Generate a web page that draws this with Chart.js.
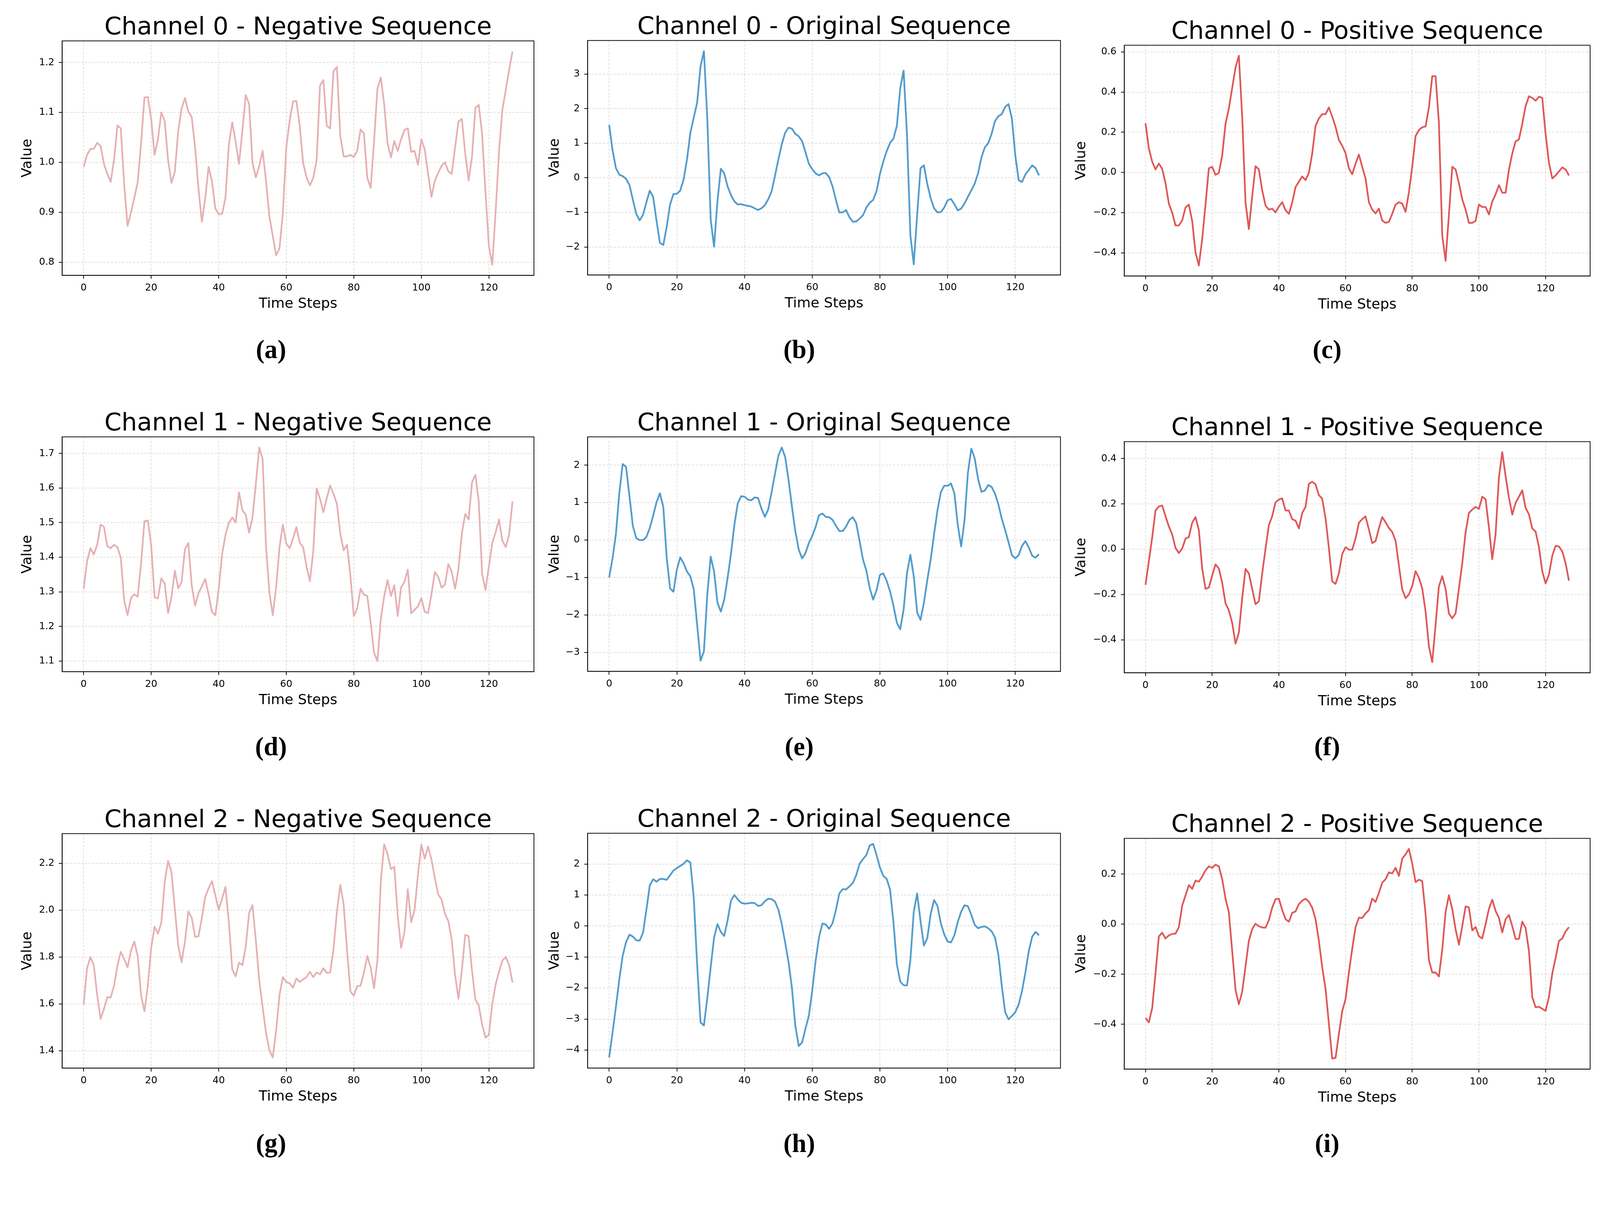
<!DOCTYPE html>
<html>
<head>
<meta charset="utf-8">
<title>Channel sequences</title>
<script src="https://cdn.jsdelivr.net/npm/chart.js@4.4.1/dist/chart.umd.min.js"></script>
<style>
  html, body { margin: 0; padding: 0; background: #fff; overflow: hidden; }
  #page { position: relative; overflow: hidden; background: #fff; }
  .panel { position: absolute; }
  .caption {
    position: absolute; text-align: center;
    font-family: 'Liberation Serif', 'DejaVu Serif', serif; font-weight: bold; color: #000;
  }
</style>
</head>
<body>
<div id="page"></div>
<script>
// time axis
const timeSteps = Array.from({ length: 128 }, (_, i) => i);
const xTicks = [0, 20, 40, 60, 80, 100, 120];
const xTickLabels = ['0', '20', '40', '60', '80', '100', '120'];

// ---- series ----
const negCh0 = [0.991,1.015,1.027,1.027,1.039,1.033,0.997,0.977,0.961,1.005,
  1.074,1.068,0.956,0.873,0.899,0.929,0.960,1.038,1.130,1.131,
  1.087,1.015,1.046,1.100,1.083,1.005,0.959,0.981,1.063,1.108,
  1.129,1.102,1.091,1.030,0.948,0.881,0.928,0.991,0.962,0.908,
  0.896,0.897,0.929,1.036,1.080,1.042,0.997,1.063,1.135,1.117,
  0.999,0.970,0.993,1.023,0.964,0.892,0.853,0.814,0.828,0.899,
  1.030,1.083,1.122,1.123,1.073,0.999,0.970,0.954,0.969,1.005,
  1.154,1.165,1.073,1.068,1.183,1.191,1.053,1.012,1.012,1.015,
  1.011,1.023,1.066,1.058,0.969,0.949,1.042,1.148,1.170,1.116,
  1.038,1.010,1.043,1.023,1.046,1.065,1.068,1.021,1.023,0.995,
  1.046,1.026,0.977,0.931,0.963,0.979,0.993,1.000,0.982,0.977,
  1.030,1.082,1.087,1.018,0.964,1.011,1.109,1.115,1.057,0.940,
  0.833,0.795,0.900,1.022,1.105,1.145,1.185,1.222];

const origCh0 = [1.53,0.80,0.28,0.09,0.05,-0.03,-0.21,-0.63,-1.04,-1.23,
  -1.07,-0.71,-0.37,-0.55,-1.24,-1.88,-1.94,-1.42,-0.77,-0.47,
  -0.46,-0.37,-0.05,0.53,1.30,1.74,2.18,3.22,3.66,1.71,
  -1.21,-1.99,-0.68,0.26,0.13,-0.25,-0.50,-0.68,-0.77,-0.76,
  -0.79,-0.81,-0.83,-0.88,-0.93,-0.88,-0.79,-0.62,-0.39,0.06,
  0.53,0.97,1.30,1.45,1.42,1.27,1.20,1.06,0.74,0.41,
  0.25,0.13,0.07,0.13,0.14,0.02,-0.25,-0.64,-1.00,-1.00,
  -0.93,-1.14,-1.27,-1.26,-1.18,-1.08,-0.86,-0.72,-0.64,-0.39,
  0.11,0.47,0.77,1.01,1.13,1.50,2.59,3.10,1.24,-1.66,
  -2.50,-1.07,0.28,0.36,-0.18,-0.59,-0.88,-1.00,-0.99,-0.86,
  -0.65,-0.61,-0.76,-0.94,-0.89,-0.74,-0.55,-0.36,-0.17,0.13,
  0.59,0.88,1.00,1.27,1.64,1.78,1.84,2.05,2.13,1.71,
  0.65,-0.07,-0.12,0.10,0.23,0.36,0.28,0.07];

const posCh0 = [0.245,0.120,0.054,0.015,0.044,0.018,-0.053,-0.155,-0.200,-0.264,
  -0.264,-0.239,-0.175,-0.160,-0.241,-0.399,-0.463,-0.333,-0.160,0.021,
  0.028,-0.012,-0.002,0.084,0.242,0.318,0.420,0.522,0.581,0.278,
  -0.150,-0.282,-0.119,0.031,0.015,-0.089,-0.165,-0.185,-0.180,-0.199,
  -0.170,-0.148,-0.188,-0.206,-0.150,-0.073,-0.046,-0.020,-0.038,-0.002,
  0.094,0.232,0.269,0.290,0.290,0.323,0.278,0.227,0.161,0.133,
  0.096,0.021,-0.009,0.044,0.089,0.028,-0.030,-0.148,-0.185,-0.204,
  -0.180,-0.239,-0.251,-0.246,-0.206,-0.160,-0.148,-0.155,-0.196,-0.099,
  0.028,0.181,0.211,0.225,0.229,0.323,0.479,0.479,0.247,-0.313,
  -0.440,-0.211,0.028,0.015,-0.053,-0.134,-0.185,-0.251,-0.251,-0.241,
  -0.160,-0.172,-0.172,-0.209,-0.145,-0.109,-0.063,-0.101,-0.101,0.013,
  0.094,0.155,0.164,0.242,0.330,0.379,0.371,0.357,0.377,0.371,
  0.191,0.049,-0.030,-0.015,0.005,0.025,0.015,-0.015];

const negCh1 = [1.309,1.388,1.426,1.408,1.435,1.494,1.488,1.432,1.426,1.436,
  1.429,1.399,1.275,1.233,1.282,1.293,1.286,1.382,1.504,1.506,
  1.435,1.284,1.281,1.339,1.324,1.239,1.284,1.361,1.310,1.329,
  1.423,1.441,1.319,1.260,1.296,1.316,1.337,1.293,1.242,1.232,
  1.310,1.408,1.465,1.499,1.515,1.500,1.587,1.536,1.523,1.471,
  1.515,1.613,1.717,1.684,1.432,1.299,1.233,1.313,1.429,1.494,
  1.440,1.426,1.454,1.487,1.442,1.429,1.373,1.331,1.417,1.599,
  1.568,1.530,1.571,1.607,1.583,1.554,1.468,1.420,1.436,1.346,
  1.230,1.252,1.309,1.292,1.288,1.210,1.124,1.100,1.222,1.287,
  1.334,1.288,1.319,1.230,1.313,1.329,1.364,1.238,1.248,1.258,
  1.282,1.242,1.239,1.293,1.357,1.343,1.312,1.321,1.380,1.358,
  1.309,1.367,1.469,1.525,1.509,1.616,1.638,1.562,1.352,1.305,
  1.373,1.440,1.472,1.509,1.448,1.429,1.466,1.561];

const origCh1 = [-1.00,-0.49,0.16,1.25,2.03,1.95,1.17,0.38,0.05,0.00,
  0.00,0.08,0.32,0.65,1.01,1.25,0.88,-0.47,-1.29,-1.38,
  -0.79,-0.46,-0.62,-0.84,-0.97,-1.31,-2.27,-3.22,-2.97,-1.45,
  -0.44,-0.84,-1.67,-1.91,-1.59,-1.01,-0.36,0.41,0.98,1.17,
  1.16,1.08,1.06,1.14,1.12,0.84,0.62,0.82,1.28,1.77,
  2.25,2.47,2.22,1.61,0.90,0.24,-0.25,-0.49,-0.35,-0.08,
  0.11,0.35,0.66,0.71,0.62,0.61,0.54,0.38,0.24,0.24,
  0.36,0.54,0.61,0.45,-0.03,-0.52,-0.82,-1.29,-1.59,-1.34,
  -0.93,-0.89,-1.09,-1.37,-1.75,-2.21,-2.38,-1.86,-0.88,-0.39,
  -0.96,-1.93,-2.13,-1.67,-1.07,-0.52,0.16,0.79,1.28,1.45,
  1.45,1.51,1.25,0.41,-0.17,0.53,1.80,2.44,2.18,1.63,
  1.29,1.32,1.47,1.42,1.24,0.95,0.57,0.27,-0.06,-0.40,
  -0.49,-0.40,-0.15,-0.03,-0.20,-0.42,-0.47,-0.38];

const posCh1 = [-0.157,-0.053,0.051,0.171,0.189,0.193,0.146,0.101,0.065,0.006,
  -0.017,0.003,0.047,0.054,0.117,0.142,0.085,-0.085,-0.175,-0.169,
  -0.116,-0.067,-0.085,-0.148,-0.239,-0.270,-0.325,-0.417,-0.368,-0.216,
  -0.087,-0.107,-0.175,-0.243,-0.230,-0.107,0.003,0.106,0.146,0.207,
  0.219,0.225,0.171,0.171,0.133,0.126,0.092,0.160,0.187,0.289,
  0.298,0.287,0.239,0.223,0.137,0.006,-0.142,-0.153,-0.107,-0.021,
  0.009,-0.002,-0.002,0.047,0.117,0.133,0.145,0.087,0.027,0.036,
  0.092,0.142,0.119,0.094,0.076,0.038,-0.071,-0.178,-0.216,-0.200,
  -0.162,-0.097,-0.126,-0.173,-0.275,-0.429,-0.499,-0.334,-0.164,-0.119,
  -0.175,-0.284,-0.305,-0.284,-0.175,-0.062,0.074,0.160,0.175,0.187,
  0.178,0.232,0.221,0.096,-0.044,0.066,0.318,0.429,0.323,0.228,
  0.153,0.205,0.232,0.260,0.183,0.154,0.092,0.078,0.010,-0.097,
  -0.151,-0.112,-0.029,0.015,0.012,-0.009,-0.062,-0.139];

const negCh2 = [1.597,1.752,1.800,1.765,1.638,1.536,1.577,1.629,1.627,1.677,
  1.763,1.822,1.791,1.756,1.826,1.866,1.804,1.638,1.568,1.677,
  1.839,1.929,1.899,1.947,2.119,2.210,2.163,2.006,1.848,1.778,
  1.866,1.994,1.968,1.886,1.888,1.966,2.056,2.093,2.124,2.063,
  2.001,2.049,2.099,1.949,1.747,1.717,1.776,1.765,1.844,1.988,
  2.021,1.870,1.699,1.586,1.476,1.402,1.371,1.485,1.638,1.714,
  1.693,1.688,1.669,1.708,1.693,1.704,1.714,1.737,1.714,1.734,
  1.726,1.752,1.732,1.734,1.835,1.994,2.108,2.023,1.828,1.653,
  1.635,1.676,1.677,1.734,1.804,1.754,1.667,1.787,2.124,2.281,
  2.239,2.175,2.185,1.979,1.839,1.907,2.089,1.949,2.001,2.150,
  2.280,2.220,2.271,2.216,2.137,2.067,2.045,1.984,1.953,1.874,
  1.721,1.621,1.743,1.894,1.889,1.743,1.618,1.594,1.511,1.456,
  1.467,1.599,1.682,1.737,1.784,1.800,1.765,1.691];

const origCh2 = [-4.24,-3.44,-2.61,-1.72,-0.96,-0.52,-0.28,-0.34,-0.46,-0.47,
  -0.22,0.52,1.31,1.51,1.43,1.52,1.52,1.49,1.64,1.79,
  1.87,1.94,2.01,2.12,2.05,0.92,-1.26,-3.11,-3.21,-2.32,
  -1.33,-0.37,0.06,-0.19,-0.32,0.19,0.82,1.00,0.86,0.75,
  0.72,0.73,0.75,0.74,0.65,0.67,0.80,0.88,0.87,0.79,
  0.53,0.06,-0.53,-1.16,-1.99,-3.21,-3.87,-3.76,-3.31,-2.90,
  -2.09,-1.13,-0.37,0.08,0.05,-0.09,0.09,0.52,1.05,1.19,
  1.18,1.28,1.39,1.64,2.01,2.16,2.29,2.60,2.65,2.29,
  1.89,1.62,1.52,1.18,0.12,-1.23,-1.79,-1.91,-1.92,-1.10,
  0.46,1.05,0.16,-0.63,-0.39,0.39,0.84,0.65,0.09,-0.27,
  -0.50,-0.53,-0.30,0.13,0.46,0.67,0.64,0.36,0.04,-0.07,
  -0.03,-0.01,-0.07,-0.17,-0.37,-0.93,-1.92,-2.78,-3.01,-2.90,
  -2.78,-2.53,-2.09,-1.49,-0.80,-0.34,-0.19,-0.30];

const posCh2 = [-0.375,-0.392,-0.336,-0.197,-0.049,-0.034,-0.057,-0.045,-0.039,-0.038,
  -0.012,0.074,0.115,0.156,0.141,0.174,0.170,0.190,0.215,0.231,
  0.225,0.238,0.231,0.180,0.102,0.048,-0.107,-0.262,-0.320,-0.270,
  -0.168,-0.066,-0.020,0.002,-0.008,-0.013,-0.014,0.016,0.066,0.100,
  0.102,0.057,0.020,0.010,0.045,0.051,0.080,0.094,0.102,0.090,
  0.066,0.020,-0.066,-0.172,-0.258,-0.398,-0.537,-0.534,-0.439,-0.348,
  -0.299,-0.193,-0.098,-0.012,0.026,0.025,0.043,0.056,0.102,0.089,
  0.125,0.166,0.180,0.207,0.203,0.225,0.193,0.262,0.279,0.301,
  0.242,0.168,0.178,0.172,0.041,-0.143,-0.193,-0.193,-0.209,-0.102,
  0.048,0.116,0.061,-0.020,-0.082,-0.008,0.071,0.067,-0.025,-0.011,
  -0.048,-0.057,0.000,0.061,0.098,0.053,0.025,-0.033,0.020,0.037,
  -0.008,-0.059,-0.059,0.010,-0.015,-0.107,-0.291,-0.332,-0.330,-0.338,
  -0.346,-0.291,-0.197,-0.135,-0.067,-0.057,-0.029,-0.012];

// ---- y tick values and labels per panel ----
const yTicksA = [0.8, 0.9, 1.0, 1.1, 1.2];
const yLabelsA = ['0.8', '0.9', '1.0', '1.1', '1.2'];
const yTicksB = [-2, -1, 0, 1, 2, 3];
const yLabelsB = ['\u22122', '\u22121', '0', '1', '2', '3'];
const yTicksC = [-0.4, -0.2, 0, 0.2, 0.4, 0.6];
const yLabelsC = ['\u22120.4', '\u22120.2', '0.0', '0.2', '0.4', '0.6'];
const yTicksD = [1.1, 1.2, 1.3, 1.4, 1.5, 1.6, 1.7];
const yLabelsD = ['1.1', '1.2', '1.3', '1.4', '1.5', '1.6', '1.7'];
const yTicksE = [-3, -2, -1, 0, 1, 2];
const yLabelsE = ['\u22123', '\u22122', '\u22121', '0', '1', '2'];
const yTicksF = [-0.4, -0.2, 0, 0.2, 0.4];
const yLabelsF = ['\u22120.4', '\u22120.2', '0.0', '0.2', '0.4'];
const yTicksG = [1.4, 1.6, 1.8, 2.0, 2.2];
const yLabelsG = ['1.4', '1.6', '1.8', '2.0', '2.2'];
const yTicksH = [-4, -3, -2, -1, 0, 1, 2];
const yLabelsH = ['\u22124', '\u22123', '\u22122', '\u22121', '0', '1', '2'];
const yTicksI = [-0.4, -0.2, 0, 0.2];
const yLabelsI = ['\u22120.4', '\u22120.2', '0.0', '0.2'];

const NEG = '#e6b1b3', ORIG = '#4f9acb', POS = '#df5757';

// everything below is laid out on a 4304 x 3142 design grid, scaled to the viewport
const DESIGN_W = 4304, DESIGN_H = 3142;
const k = (document.documentElement.clientWidth || window.innerWidth) / DESIGN_W;
const S = v => v * k;

const Y_AXIS_W = 160, TITLE_H = 110, X_AXIS_H = 120, RIGHT_PAD = 4;

const panels = [
  { title: 'Channel 0 - Negative Sequence', values: negCh0, ticks: yTicksA, labels: yLabelsA, color: NEG,  box: [167, 110, 1436, 741],   yPad: 44, cap: '(a)', capX: 729,  capY: 965 },
  { title: 'Channel 0 - Original Sequence', values: origCh0, ticks: yTicksB, labels: yLabelsB, color: ORIG, box: [1581, 109, 2852, 740],  yPad: 49, cap: '(b)', capX: 2150, capY: 965 },
  { title: 'Channel 0 - Positive Sequence', values: posCh0, ticks: yTicksC, labels: yLabelsC, color: POS,  box: [3024, 122, 4277, 742],  yPad: 22, cap: '(c)', capX: 3570, capY: 965 },
  { title: 'Channel 1 - Negative Sequence', values: negCh1, ticks: yTicksD, labels: yLabelsD, color: NEG,  box: [167, 1175, 1436, 1807], yPad: 44, cap: '(d)', capX: 729,  capY: 2033 },
  { title: 'Channel 1 - Original Sequence', values: origCh1, ticks: yTicksE, labels: yLabelsE, color: ORIG, box: [1581, 1175, 2852, 1806], yPad: 49, cap: '(e)', capX: 2150, capY: 2033 },
  { title: 'Channel 1 - Positive Sequence', values: posCh1, ticks: yTicksF, labels: yLabelsF, color: POS,  box: [3024, 1188, 4277, 1809], yPad: 22, cap: '(f)', capX: 3570, capY: 2033 },
  { title: 'Channel 2 - Negative Sequence', values: negCh2, ticks: yTicksG, labels: yLabelsG, color: NEG,  box: [167, 2243, 1436, 2874], yPad: 44, cap: '(g)', capX: 729,  capY: 3101 },
  { title: 'Channel 2 - Original Sequence', values: origCh2, ticks: yTicksH, labels: yLabelsH, color: ORIG, box: [1581, 2242, 2852, 2874], yPad: 49, cap: '(h)', capX: 2150, capY: 3101 },
  { title: 'Channel 2 - Positive Sequence', values: posCh2, ticks: yTicksI, labels: yLabelsI, color: POS,  box: [3024, 2256, 4277, 2876], yPad: 22, cap: '(i)', capX: 3570, capY: 3101 },
];

Chart.defaults.font.family = "'DejaVu Sans', sans-serif";
Chart.defaults.color = '#000';

// full box around the plot area, like matplotlib spines
const frame = {
  id: 'frame',
  afterDatasetsDraw(chart) {
    const { ctx, chartArea: a } = chart;
    ctx.save();
    ctx.strokeStyle = '#000';
    ctx.lineWidth = S(2);
    ctx.strokeRect(a.left, a.top, a.right - a.left, a.bottom - a.top);
    ctx.restore();
  }
};

const page = document.getElementById('page');
page.style.width = S(DESIGN_W) + 'px';
page.style.height = S(DESIGN_H) + 'px';

function padRange(arr) {
  const lo = Math.min(...arr), hi = Math.max(...arr);
  const m = (hi - lo) * 0.05;
  return [lo - m, hi + m];
}

const [xMin, xMax] = padRange(timeSteps);

const tickFont = { family: "'DejaVu Sans', sans-serif", size: S(26) };
const labelFont = { family: "'DejaVu Sans', sans-serif", size: S(38), lineHeight: 1.2 };
const gridOpts = { color: 'rgba(0,0,0,0.15)', lineWidth: S(1.8), tickLength: S(9), tickColor: '#000', tickWidth: S(2) };
const borderOpts = { display: true, color: '#000', width: S(2), dash: [S(6), S(4)] };

panels.forEach(p => {
  const [L, T, R, B] = p.box;
  const left = L - Y_AXIS_W, top = T - TITLE_H;
  const wrap = document.createElement('div');
  wrap.className = 'panel';
  wrap.style.left = S(left) + 'px';
  wrap.style.top = S(top) + 'px';
  wrap.style.width = S(R - left + RIGHT_PAD) + 'px';
  wrap.style.height = S(B + X_AXIS_H - top) + 'px';
  const canvas = document.createElement('canvas');
  wrap.appendChild(canvas);
  page.appendChild(wrap);

  const [yMin, yMax] = padRange(p.values);

  new Chart(canvas, {
    type: 'line',
    data: {
      datasets: [{
        data: p.values.map((v, i) => ({ x: timeSteps[i], y: v })),
        borderColor: p.color,
        borderWidth: S(4.6),
        pointRadius: 0,
        tension: 0,
        borderJoinStyle: 'round',
        fill: false
      }]
    },
    options: {
      responsive: true,
      maintainAspectRatio: false,
      animation: false,
      layout: { padding: { left: 0, top: 0, bottom: 0, right: S(RIGHT_PAD) } },
      plugins: {
        legend: { display: false },
        tooltip: { enabled: false },
        title: {
          display: true,
          text: p.title,
          fullSize: false,
          color: '#000',
          font: { family: "'DejaVu Sans', sans-serif", size: S(66), weight: 'normal', lineHeight: 1 },
          padding: { top: S(42.4), bottom: S(1.6) }
        }
      },
      scales: {
        x: {
          type: 'linear',
          min: xMin,
          max: xMax,
          afterBuildTicks: s => { s.ticks = xTicks.map(v => ({ value: v })); },
          afterFit: s => { s.height = S(X_AXIS_H); },
          ticks: { font: tickFont, color: '#000', padding: S(9.5), maxRotation: 0, autoSkip: false,
                   callback: (v, i) => xTickLabels[i] },
          grid: gridOpts,
          border: borderOpts,
          title: { display: true, text: 'Time Steps', color: '#000', font: labelFont, padding: { top: 0, bottom: S(19.8) } }
        },
        y: {
          type: 'linear',
          min: yMin,
          max: yMax,
          afterBuildTicks: s => { s.ticks = p.ticks.map(v => ({ value: v })); },
          afterFit: s => { s.width = S(Y_AXIS_W); },
          ticks: { font: tickFont, color: '#000', padding: S(12), autoSkip: false,
                   callback: (v, i) => p.labels[i] },
          grid: gridOpts,
          border: borderOpts,
          title: { display: true, text: 'Value', color: '#000', font: labelFont, padding: { top: S(p.yPad), bottom: 0 } }
        }
      }
    },
    plugins: [frame]
  });

  const cap = document.createElement('div');
  cap.className = 'caption';
  cap.textContent = p.cap;
  cap.style.width = S(200) + 'px';
  cap.style.fontSize = S(70) + 'px';
  cap.style.lineHeight = S(70) + 'px';
  cap.style.left = S(p.capX - 100) + 'px';
  cap.style.top = S(p.capY - 59) + 'px';
  page.appendChild(cap);
});
</script>
</body>
</html>
